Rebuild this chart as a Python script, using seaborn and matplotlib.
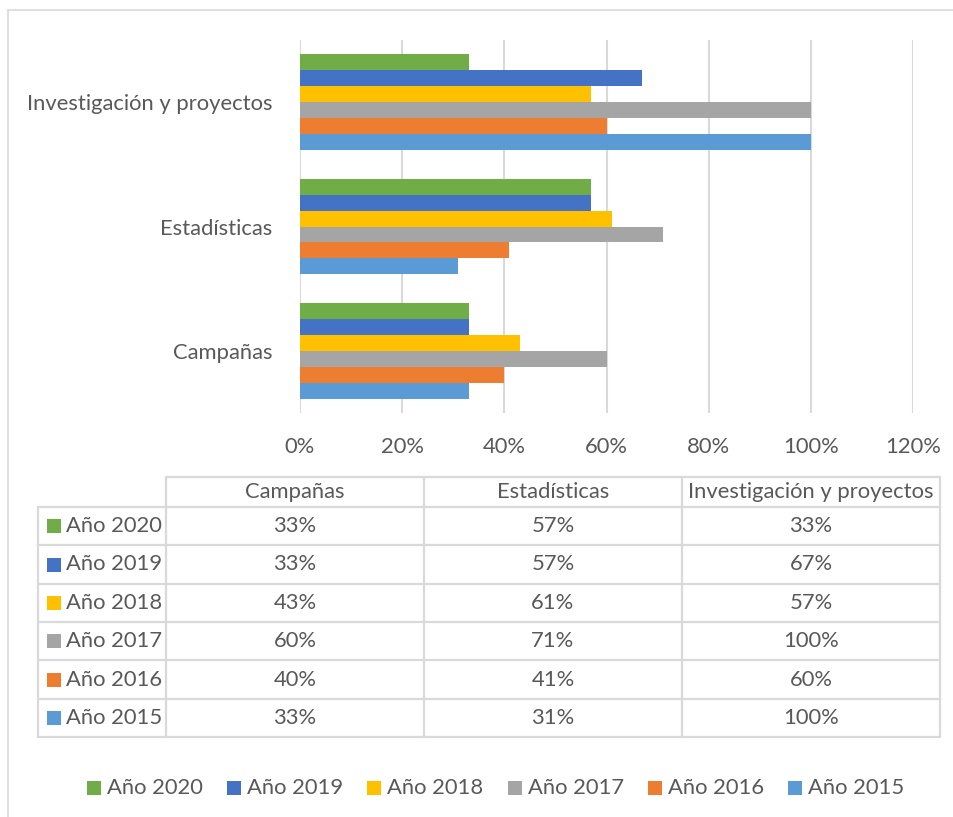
import matplotlib
matplotlib.use("Agg")
import matplotlib.pyplot as plt
from matplotlib.patches import Rectangle
from matplotlib.lines import Line2D
from matplotlib.ticker import FuncFormatter
import seaborn as sns
import pandas as pd

# Data
categories = ["Campañas", "Estadísticas", "Investigación y proyectos"]
years = ["Año 2020", "Año 2019", "Año 2018", "Año 2017", "Año 2016", "Año 2015"]
anio_2020 = [33, 57, 33]
anio_2019 = [33, 57, 67]
anio_2018 = [43, 61, 57]
anio_2017 = [60, 71, 100]
anio_2016 = [40, 41, 60]
anio_2015 = [33, 31, 100]
series = [anio_2020, anio_2019, anio_2018, anio_2017, anio_2016, anio_2015]
colors = ["#70AD47", "#4472C4", "#FFC000", "#A5A5A5", "#ED7D31", "#5B9BD5"]
x_ticks = [0, 20, 40, 60, 80, 100, 120]

rows = []
for year, vals in zip(years, series):
    for cat, v in zip(categories, vals):
        rows.append({"categoria": cat, "anio": year, "valor": v})
df = pd.DataFrame(rows)

sns.set_theme(style="white")
plt.rcParams["font.family"] = ["Lato", "DejaVu Sans"]
TXT = "#595959"
GRID = "#D9D9D9"
FS = 15.8

W, H = 954, 817
fig = plt.figure(figsize=(W / 100, H / 100), dpi=100)


def fx(px):
    return px / W


def fy(py):
    return 1 - py / H


ax = fig.add_axes([fx(300), fy(413), fx(913) - fx(300), fy(40) - fy(413)])
sns.barplot(data=df, y="categoria", x="valor", hue="anio",
            order=categories[::-1], hue_order=years, palette=colors,
            saturation=1, orient="h", width=0.77, linewidth=0, ax=ax,
            legend=False)
ax.set_xlim(0, 120)
ax.set_ylim(2.5, -0.5)
ax.set_xticks(x_ticks)
ax.xaxis.set_major_formatter(FuncFormatter(lambda v, _: f"{v:.0f}%"))
ax.grid(axis="x", color=GRID, linewidth=1.5)
ax.set_axisbelow(True)
for s in ax.spines.values():
    s.set_visible(False)
ax.set_xlabel("")
ax.set_ylabel("")
ax.tick_params(axis="x", length=0, pad=17, labelsize=FS, labelcolor=TXT)
ax.tick_params(axis="y", length=0, pad=20, labelsize=FS, labelcolor=TXT)

# Outer chart border
fig.add_artist(Rectangle((fx(8), fy(830)), fx(980) - fx(8), fy(10) - fy(830),
                         transform=fig.transFigure, fill=False,
                         edgecolor=GRID, linewidth=1.2))

# Data table below the chart
col_x = [38, 166, 424, 682, 940]
head_top, head_bot, table_bot = 477, 507, 737
row_h = (table_bot - head_bot) / len(years)


def hline(y, x0, x1):
    fig.add_artist(Line2D([fx(x0), fx(x1)], [fy(y), fy(y)],
                          transform=fig.transFigure, color=GRID, linewidth=1.6))


def vline(x, y0, y1):
    fig.add_artist(Line2D([fx(x), fx(x)], [fy(y0), fy(y1)],
                          transform=fig.transFigure, color=GRID, linewidth=1.6))


hline(head_top, col_x[1], col_x[-1])
for i in range(len(years) + 1):
    hline(head_bot + i * row_h, col_x[0], col_x[-1])
vline(col_x[0], head_bot, table_bot)
for x in col_x[1:]:
    vline(x, head_top, table_bot)

for j, cat in enumerate(categories):
    cx = (col_x[j + 1] + col_x[j + 2]) / 2
    fig.text(fx(cx), fy((head_top + head_bot) / 2), cat, ha="center",
             va="center", fontsize=FS, color=TXT)

for i, (year, vals, c) in enumerate(zip(years, series, colors)):
    cy = head_bot + (i + 0.5) * row_h
    fig.add_artist(Rectangle((fx(47), fy(cy + 7)), fx(14), fy(cy - 7) - fy(cy + 7),
                             transform=fig.transFigure, facecolor=c,
                             edgecolor="none"))
    fig.text(fx(66), fy(cy), year, ha="left", va="center", fontsize=FS,
             color=TXT)
    for j, v in enumerate(vals):
        cx = (col_x[j + 1] + col_x[j + 2]) / 2
        fig.text(fx(cx), fy(cy), f"{v}%", ha="center", va="center",
                 fontsize=FS, color=TXT)

# Legend row
leg_x0, leg_step, leg_y = 87, 140.2, 788
for k, (year, c) in enumerate(zip(years, colors)):
    lx = leg_x0 + k * leg_step
    fig.add_artist(Rectangle((fx(lx), fy(leg_y + 7)), fx(14), fy(leg_y - 7) - fy(leg_y + 7),
                             transform=fig.transFigure, facecolor=c,
                             edgecolor="none"))
    fig.text(fx(lx + 20), fy(leg_y), year, ha="left", va="center",
             fontsize=FS, color=TXT)

fig.savefig("out.png", dpi=100, facecolor="white")
